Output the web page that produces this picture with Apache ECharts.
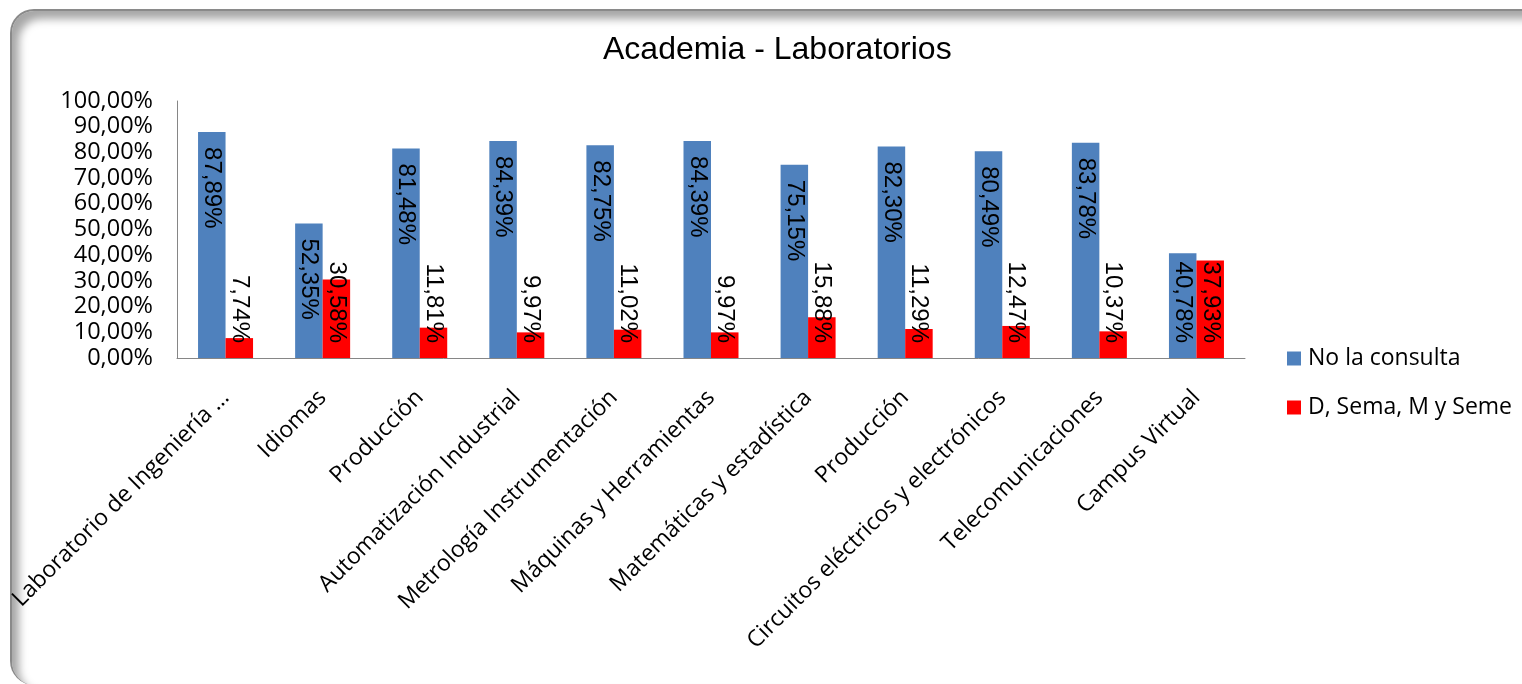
<!DOCTYPE html>
<html>
<head>
<meta charset="utf-8">
<script src="https://cdn.jsdelivr.net/npm/echarts@6/dist/echarts.min.js"></script>
<style>
  html, body { margin: 0; padding: 0; background: #ffffff; }
  #wrap { position: relative; width: 1522px; height: 684px; overflow: hidden; background: #fff; }
  #frame {
    position: absolute; left: 10px; top: 9px; width: 1540px; height: 674px;
    border-radius: 24px;
    border-left: 2px solid #8a8a8a; border-top: 2px solid #8a8a8a;
    box-shadow: inset 7px 8px 9px rgba(0,0,0,0.35);
    background: #fff;
  }
  #chart { position: absolute; left: 0; top: 0; width: 1522px; height: 684px; }
</style>
</head>
<body>
<div id="wrap">
  <div id="frame"></div>
  <div id="chart"></div>
</div>
<script>
const categories = [
  'Laboratorio de Ingeniería …',
  'Idiomas',
  'Producción',
  'Automatización Industrial',
  'Metrología Instrumentación',
  'Máquinas y Herramientas',
  'Matemáticas y estadística',
  'Producción',
  'Circuitos eléctricos y electrónicos',
  'Telecomunicaciones',
  'Campus Virtual'
];
const seriesNames = ['No la consulta', 'D, Sema, M y Seme'];
const noConsulta = [87.89, 52.35, 81.48, 84.39, 82.75, 84.39, 75.15, 82.30, 80.49, 83.78, 40.78];
const frecuente  = [7.74, 30.58, 11.81, 9.97, 11.02, 9.97, 15.88, 11.29, 12.47, 10.37, 37.93];
const yTicks = [0, 10, 20, 30, 40, 50, 60, 70, 80, 90, 100];

const fmtPct = v => v.toFixed(2).replace('.', ',') + '%';

function buildItems(values, topThreshold) {
  return values.map(v => {
    const top = v > topThreshold;
    return {
      value: v,
      label: {
        position: top ? 'insideTop' : 'insideBottom',
        align: top ? 'left' : 'right',
        verticalAlign: 'middle',
        distance: 15
      }
    };
  });
}

const chart = echarts.init(document.getElementById('chart'), null, { renderer: 'canvas' });
const labelCommon = {
  show: true,
  rotate: -90,
  color: '#000',
  fontFamily: 'Liberation Sans',
  fontSize: 24,
  formatter: p => fmtPct(p.value)
};
chart.setOption({
  backgroundColor: 'transparent',
  animation: false,
  title: {
    text: 'Academia - Laboratorios',
    left: 603, top: 34, padding: 0,
    textStyle: { fontFamily: 'Liberation Sans', fontSize: 32, fontWeight: 'normal', color: '#000' }
  },
  legend: {
    orient: 'vertical',
    left: 1287, top: 347, padding: 0,
    itemWidth: 14, itemHeight: 14, itemGap: 26,
    icon: 'rect',
    textStyle: { fontFamily: 'Open Sans', fontSize: 23, color: '#000', lineHeight: 22, padding: [0, 0, 0, 2] },
    data: seriesNames
  },
  grid: { left: 177, right: 277, top: 101, bottom: 326, containLabel: false },
  xAxis: {
    type: 'category',
    data: categories,
    axisLine: { lineStyle: { color: '#868686', width: 1 } },
    axisTick: { show: false },
    axisLabel: {
      interval: 0, rotate: 45, margin: 36,
      fontFamily: 'Open Sans', fontSize: 23, color: '#000'
    }
  },
  yAxis: {
    type: 'value',
    min: yTicks[0], max: yTicks[yTicks.length - 1], interval: 10,
    axisLine: { show: true, lineStyle: { color: '#868686', width: 1 } },
    axisTick: { show: false },
    splitLine: { show: false },
    axisLabel: {
      margin: 24,
      fontFamily: 'Open Sans', fontSize: 23.5, color: '#000',
      formatter: v => fmtPct(v)
    }
  },
  series: [
    {
      name: seriesNames[0], type: 'bar', barWidth: 27.5, barGap: '0%',
      itemStyle: { color: '#4F81BD' },
      label: labelCommon,
      data: buildItems(noConsulta, 50)
    },
    {
      name: seriesNames[1], type: 'bar', barWidth: 27.5, barGap: '0%',
      itemStyle: { color: '#FF0000' },
      label: labelCommon,
      data: buildItems(frecuente, 200)
    }
  ]
});
</script>
</body>
</html>
